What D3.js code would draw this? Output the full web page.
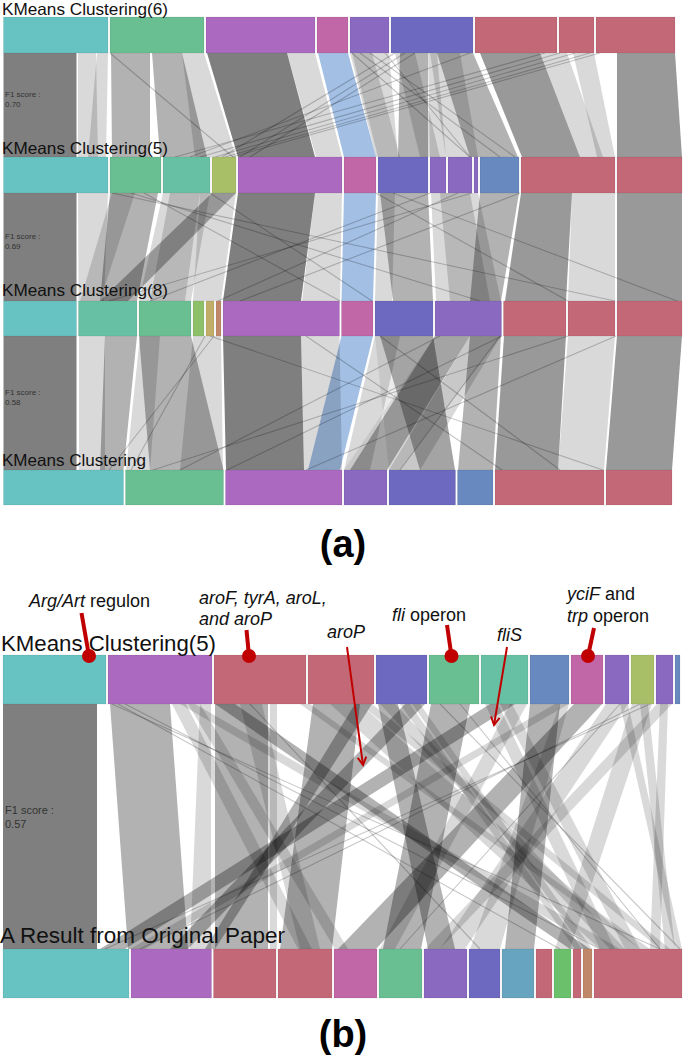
<!DOCTYPE html>
<html><head><meta charset="utf-8">
<script src="https://cdn.jsdelivr.net/npm/d3@7"></script>
<style>body{margin:0;background:#fff} svg{display:block} text{font-family:"Liberation Sans",Arial,sans-serif}</style>
</head><body><svg id="c" width="685" height="1058"></svg>
<script>
// ---------------- data ----------------
const rowLabelsA = ["KMeans Clustering(6)","KMeans Clustering(5)","KMeans Clustering(8)","KMeans Clustering"];
const f1ScoresA = ["0.70","0.69","0.58"];
const clusterSizesA = [
  [104.5,94,109,31,39,82,82,35,79],
  [104.5,51,47,24,104,32,50,16,24,4,39,94,65],
  [73,58.5,52,11,8,5,116.5,31.5,58,66.5,62.5,47,65],
  [120,98,116.5,43,66.5,35.5,109,66]
];
const clusterColorsA = [
  ["teal","green","purple","pink","violet","indigo","red","red","red"],
  ["teal","green","seafoam","olive","purple","pink","indigo","violet","violet","violet","steel","red","red"],
  ["teal","seafoam","green","lime","gold","orange","purple","pink","indigo","violet","red","red","red"],
  ["teal","green","purple","violet","indigo","steel","red","red"]
];
// flows between consecutive rows: [top start, top end, bottom start, bottom end, shade]
const flowsA1 = [
  [3.5,76.5,3.5,76.5,"d"],[78,96,78,98,"l"],[97,108,88,106,"l"],[111,150,112,150,"m"],
  [152,182,160,207,"m"],[182,204,195,236,"l"],[207,287,238,315,"d"],[287,315,316,342,"l"],
  [350,389,376,398,"l"],[352,372,378,400,"l"],[400,428,398,428,"m"],[395,415,420,440,"l"],
  [428,437,430,446,"l"],[437,473,470,518,"m"],[430,460,446,478,"l"],[480,540,522,580,"d2"],[540,567,580,603,"l"],
  [573,594,597,615,"l"],[617,675,617,682,"d2"]
];
const flowsA2 = [
  [3.5,76.5,3.5,76.5,"d"],[78,108,78.5,104,"l"],[110,158,100,137,"m"],[112,135,80,100,"l"],
  [163,210,139,191,"l"],[170,200,150,185,"l"],[212,236,100,128,"m"],[200,236,193,221,"l"],
  [238,315,223,301,"d"],[315,342,302,340,"l"],[380,428,393,433,"m"],[378,395,375,392,"l"],
  [431,478,436,501,"l"],[440,470,450,490,"l"],[480,519,470,501,"m"],[521,572,505,566,"d2"],[572,615,568,615,"l"],
  [617,682,617,682,"d2"]
];
const flowsA3 = [
  [3.5,76.5,3.5,76.5,"d"],[79,105,79,105,"l"],[105,137,100,123.5,"m"],[139,191,150,223.5,"m"],
  [140,160,126,150,"l"],[193,221,180,223,"l"],[223,301,226,304,"d"],[301,339.5,304,342,"l"],
  [380,433,420,455,"m"],[435,470,350,387,"m"],[470,501,389,420,"l"],[375,400,344,370,"l"],
  [375,433,389,455,"x"],[435,501,344,400,"x"],
  [470,501,458,493,"m"],[504,566,495,558,"d2"],[568,615,558,604,"l"],[617,682,606,672,"d2"]
];
const highlightA = [[318,348,344,376],[344,376,341.5,373],[341.5,373,308,340]];
const linesA1 = [[110,233],[545,175],[560,200],[575,215],[590,225],[600,232],[352,470],[360,500],[370,515],[395,222],[405,240],[415,250],[385,470],[470,190]];
const linesA2 = [[112,615],[144,340],[131,480],[472,109],[458,218],[376,568],[393,677],[210,372],[430,150],[520,240]];
const linesA3 = [[214,109],[205,131],[502,227],[568,153],[210,603],[306,502],[616,306],[440,180],[380,560],[500,400]];

const rowLabelsB = ["KMeans Clustering(5)","A Result from Original Paper"];
const f1ScoreB = "0.57";
const clusterSizesB = [
  [103,104,92,66,51,50,47,39,32,24,23,17,5],
  [126,80.5,62.5,54,43,43,43,31,32,16,17,8,9,88]
];
const clusterColorsB = [
  ["teal","purple","red","red","indigo","green","seafoam","steel","pink","violet","olive","violet","steel"],
  ["teal","purple","red","red","pink","green","violet","indigo","sky","red","lgreen","red","orange","red"]
];
const flowsB = [
  [3,97,3,97,"d"],[110,170,128,188,"m"],[172,186,298,312,"l"],[188,200,335,348,"l"],[200,211,190,211,"l"],
  [215,268,215,268,"m"],[270,277,270,277,"l"],[313,360,280,332,"m"],[215,235,570,590,"m"],[180,195,600,620,"l"],
  [490,515,100,125,"m"],[555,569,130,145,"l"],[405,425,170,188,"m"],[355,372,205,215,"m"],[431,470,383,421,"m"],
  [378,398,428,455,"m"],[485,498,600,615,"l"],[500,512,625,640,"l"],[530,560,505,534,"m"],[574,602,338,376,"m"],
  [606,628,440,465,"l"],[632,652,555,570,"l"],[657,672,425,440,"l"],[660,668,650,660,"l"],[640,648,665,675,"l"],
  [620,628,675,682,"l"],[330,345,600,620,"l"],[345,360,620,640,"l"],[300,310,640,650,"l"],[360,372,660,670,"l"],
  [380,395,610,625,"l"],[400,410,575,582,"l"],[412,420,584,592,"l"],[560,569,470,500,"l"],[510,527,380,395,"l"],
  [240,262,300,320,"l"]
];
const linesB = [[112,660],[118,560],[125,600],[650,105],[640,140],[250,480],[620,400],[440,680],[460,660]];

// annotations: text lines (segments [text, italic]), and pointer markers
const annotTexts = [
  {x:29, y:607, parts:[["Arg/Art",true],[" regulon",false]]},
  {x:199,y:604, parts:[["aroF, tyrA, aroL,",true]]},
  {x:199,y:625, parts:[["and aroP",true]]},
  {x:327,y:638, parts:[["aroP",true]]},
  {x:392,y:621, parts:[["fli",true],[" operon",false]]},
  {x:497,y:641, parts:[["fliS",true]]},
  {x:567,y:600, parts:[["yciF",true],[" and",false]]},
  {x:567,y:622, parts:[["trp",true],[" operon",false]]}
];
const annotDots = [[81.5,613,89,656],[246.5,630,249,656],[447,625,451.5,656],[594,628,588,656]];
const annotArrows = [[347,647,363,765],[507,647,494,725]];

// ---------------- drawing ----------------
const palette = {teal:"#67c2c2",green:"#69bf91",seafoam:"#68c0a4",olive:"#a8bf68",purple:"#ab69c0",
  pink:"#c166a6",violet:"#8a69c0",indigo:"#6d69c0",red:"#c36876",steel:"#6889c0",lime:"#8dc068",
  gold:"#c0ae68",orange:"#c08868",sky:"#67a4c0",lgreen:"#6bc06b"};
const shadeOp = {d:0.5,d2:0.4,m:0.3,l:0.15,x:0.08};
const svg = d3.select("#c");
const x = d3.scaleLinear().domain([0,685]).range([0,685]);
const GAP = 2;

function layout(sizes, start){
  let p = start; return sizes.map(s=>{const o={x0:p,x1:p+s}; p+=s+GAP; return o;});
}
function drawRow(g, sizes, colors, start, y0, h){
  const segs = layout(sizes,start);
  g.selectAll(null).data(segs).join("rect")
    .attr("x",d=>x(d.x0)).attr("width",d=>x(d.x1)-x(d.x0))
    .attr("y",y0).attr("height",h)
    .attr("fill",(d,i)=>palette[colors[i]])
    .attr("stroke","rgba(0,0,0,0.12)").attr("stroke-width",0.6);
}
function poly(f,yt,yb){
  return `M${x(f[0])},${yt}L${x(f[1])},${yt}L${x(f[3])},${yb}L${x(f[2])},${yb}Z`;
}
function drawFlows(g, flows, lines, yt, yb, hl){
  if(hl) g.append("path").attr("d",poly(hl,yt,yb)).attr("fill","#a3bfe4");
  g.selectAll(null).data(flows).join("path").attr("d",d=>poly(d,yt,yb))
    .attr("fill","#000").attr("fill-opacity",d=>shadeOp[d[4]]);
  g.selectAll(null).data(lines).join("line")
    .attr("x1",d=>x(d[0])).attr("x2",d=>x(d[1])).attr("y1",yt).attr("y2",yb)
    .attr("stroke","#000").attr("stroke-opacity",0.22).attr("stroke-width",1.1);
}

// panel (a)
const rowY = [17,157,301,470], rowH = [36,36,35,35];
const flowsA = [flowsA1,flowsA2,flowsA3], linesA = [linesA1,linesA2,linesA3];
const gA = svg.append("g");
for(let i=0;i<3;i++){
  drawFlows(gA.append("g"), flowsA[i], linesA[i], rowY[i]+rowH[i], rowY[i+1], highlightA[i]);
}
for(let i=0;i<4;i++) drawRow(gA.append("g"), clusterSizesA[i], clusterColorsA[i], 3.5, rowY[i], rowH[i]);
const labW = [166,166,166,144];
const labY = [15,153.5,296,465.5];
rowLabelsA.forEach((t,i)=>{
  gA.append("text").attr("x",2).attr("y",labY[i]).attr("font-size",16.5).attr("fill","#111")
    .attr("textLength",labW[i]).attr("lengthAdjust","spacingAndGlyphs").text(t);
});
f1ScoresA.forEach((s,i)=>{
  const yMid = (rowY[i]+rowH[i]+rowY[i+1])/2;
  const t = gA.append("text").attr("x",5).attr("font-size",8).attr("fill","#333");
  t.append("tspan").attr("x",5).attr("y",yMid-8).text("F1 score :");
  t.append("tspan").attr("x",5).attr("y",yMid+2).text(s);
});
gA.append("text").attr("x",343).attr("y",557).attr("text-anchor","middle")
  .attr("font-size",38).attr("font-weight","bold").attr("fill","#000").text("(a)");

// panel (b)
const gB = svg.append("g");
const yTopB = 655, hB = 49, yBotB = 949;
drawFlows(gB.append("g"), flowsB, linesB, yTopB+hB, yBotB, null);
drawRow(gB.append("g"), clusterSizesB[0], clusterColorsB[0], 3, yTopB, hB);
drawRow(gB.append("g"), clusterSizesB[1], clusterColorsB[1], 3, yBotB, hB);
gB.append("text").attr("x",1).attr("y",651).attr("font-size",22).attr("fill","#111")
  .attr("textLength",215).attr("lengthAdjust","spacingAndGlyphs").text(rowLabelsB[0]);
gB.append("text").attr("x",0).attr("y",943).attr("font-size",22).attr("fill","#111")
  .attr("textLength",285).attr("lengthAdjust","spacingAndGlyphs").text(rowLabelsB[1]);
{
  const t = gB.append("text").attr("font-size",11).attr("fill","#333");
  t.append("tspan").attr("x",5).attr("y",814).text("F1 score :");
  t.append("tspan").attr("x",5).attr("y",828).text(f1ScoreB);
}
gB.append("text").attr("x",343).attr("y",1047).attr("text-anchor","middle")
  .attr("font-size",38).attr("font-weight","bold").attr("fill","#000").text("(b)");

// annotations
const red = "#c00000";
const gN = svg.append("g");
annotTexts.forEach(a=>{
  const t = gN.append("text").attr("x",a.x).attr("y",a.y).attr("font-size",18).attr("fill","#111");
  a.parts.forEach(p=>t.append("tspan").attr("font-style",p[1]?"italic":"normal").text(p[0]));
});
annotDots.forEach(d=>{
  gN.append("line").attr("x1",d[0]).attr("y1",d[1]).attr("x2",d[2]).attr("y2",d[3])
    .attr("stroke",red).attr("stroke-width",4);
  gN.append("circle").attr("cx",d[2]).attr("cy",d[3]).attr("r",7).attr("fill",red);
});
annotArrows.forEach(d=>{
  gN.append("line").attr("x1",d[0]).attr("y1",d[1]).attr("x2",d[2]).attr("y2",d[3])
    .attr("stroke",red).attr("stroke-width",2);
  const ang = Math.atan2(d[3]-d[1], d[2]-d[0]);
  const L = 9, w = 0.5;
  const p1 = [d[2]-L*Math.cos(ang-w), d[3]-L*Math.sin(ang-w)];
  const p2 = [d[2]-L*Math.cos(ang+w), d[3]-L*Math.sin(ang+w)];
  gN.append("path").attr("d",`M${p1}L${d[2]},${d[3]}L${p2}`).attr("fill","none")
    .attr("stroke",red).attr("stroke-width",2);
});
</script></body></html>
